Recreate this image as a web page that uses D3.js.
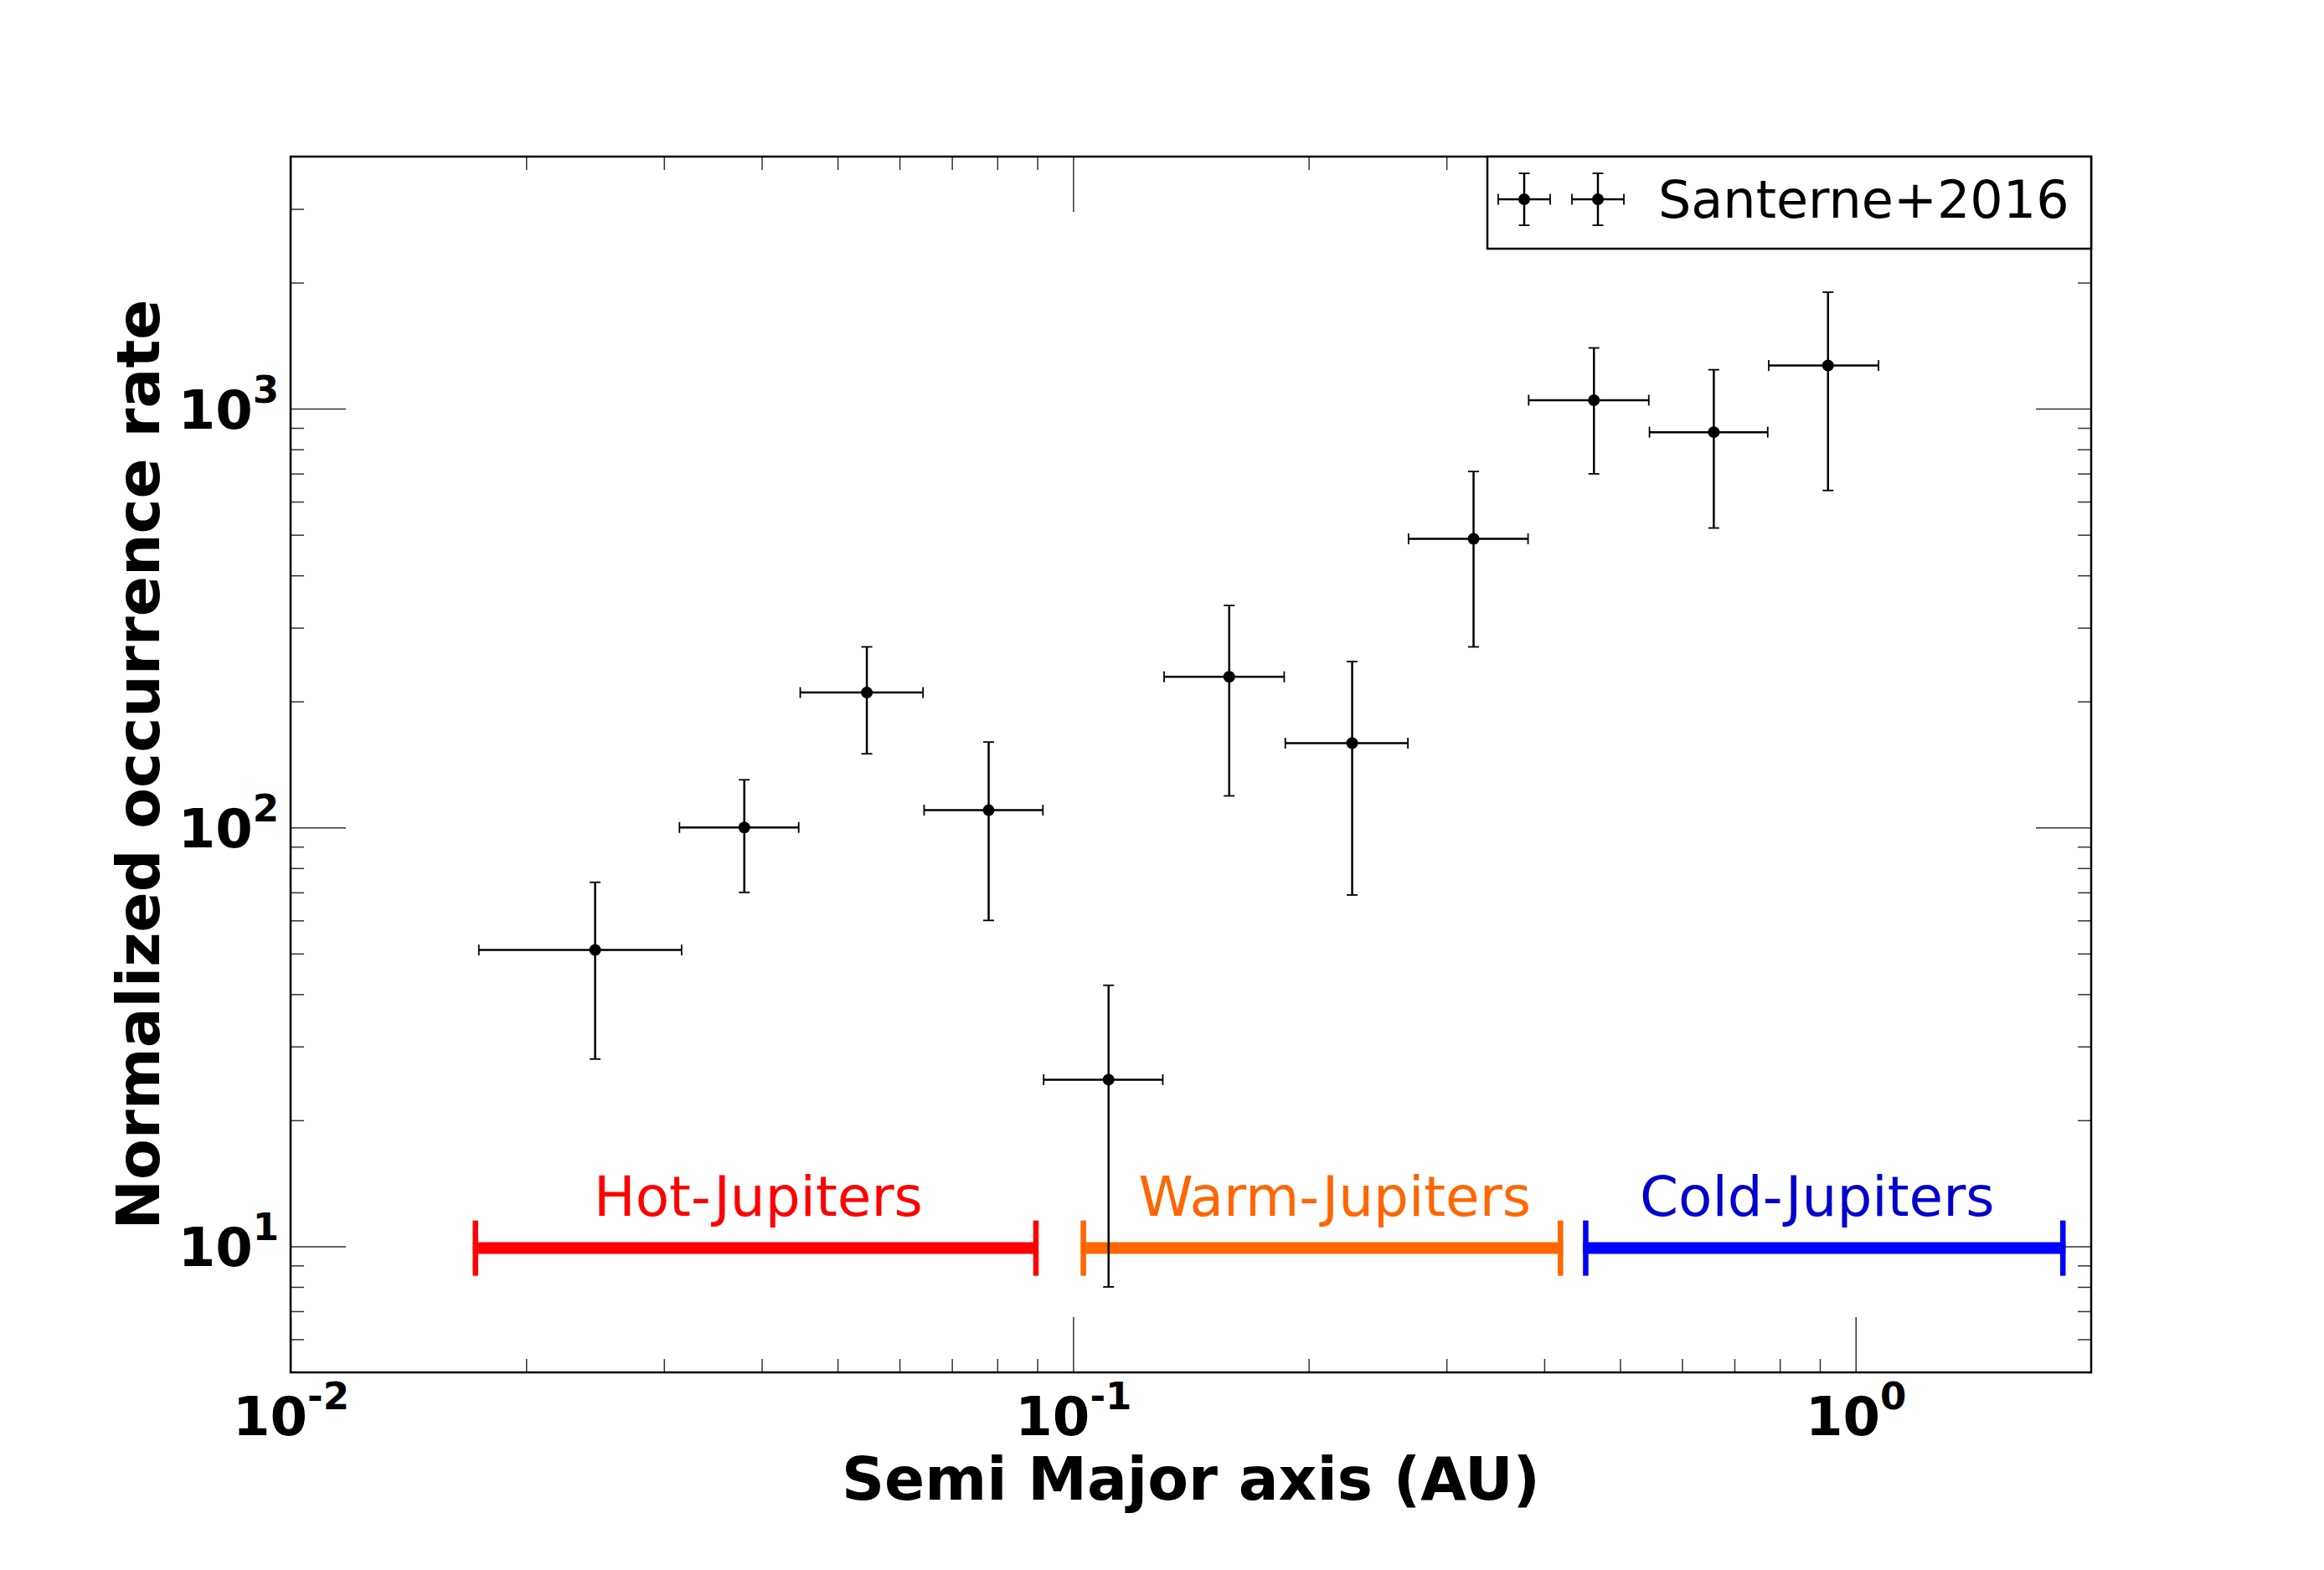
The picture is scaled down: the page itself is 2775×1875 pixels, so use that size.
<!DOCTYPE html>
<meta charset="utf-8">
<title>Occurrence rate vs semi major axis</title>
<script src="https://d3js.org/d3.v7.min.js"></script>
<style>
    body { margin: 0; background: #fff; }
    svg text { font-family: "DejaVu Sans", sans-serif; }
</style>
<body>
<div id="chart"></div>

<script>
    // values
    var semiMajor = [0.0245, 0.0380, 0.0545, 0.0780, 0.1110, 0.1583, 0.2273, 0.3249, 0.4630, 0.6588, 0.9220];
    var binLow    = [0.0174, 0.0314, 0.0448, 0.0645, 0.0917, 0.1307, 0.1867, 0.2683, 0.3821, 0.5452, 0.7744];
    var binHigh   = [0.0316, 0.0446, 0.0643, 0.0915, 0.1302, 0.1861, 0.2678, 0.3814, 0.5441, 0.7721, 1.0698];
    var rate      = [51, 100, 210, 110, 25, 229, 159, 489, 1048, 879, 1268];
    var rateErr   = [23, 30, 60, 50, 17, 110, 90, 219, 349, 360, 630];

    var regionNames   = ["Hot-Jupiters", "Warm-Jupiters", "Cold-Jupiters"];
    var regionFrom    = [0.0171, 0.1023, 0.4486];
    var regionTo      = [0.0903, 0.4227, 1.854];
    var regionLabelAt = [0.0396, 0.216, 0.893];
    var regionLevel   = 9.9;

    var xMajor = [0.01, 0.1, 1];
    var yMajor = [10, 100, 1000];

    // styles kept apart from the data
    var regionColors     = ["#ff0000", "#ff6600", "#0000ff"];
    var regionTextColors = ["#ff0000", "#ff6600", "#0000cd"];

    var W = 2775, H = 1875;
    var pLeft = 347, pRight = 2497, pTop = 187, pBottom = 1639;

    var x = d3.scaleLog().domain([0.01, 2]).range([pLeft, pRight]);
    var y = d3.scaleLog().domain([5, 4000]).range([pBottom, pTop]);

    // minor ticks 2..9 of every decade inside the domain
    function minorTicks(scale) {
        var dom = scale.domain(), out = [];
        for (var e = Math.floor(Math.log10(dom[0])); e <= Math.ceil(Math.log10(dom[1])); e++) {
            for (var k = 2; k <= 9; k++) {
                var v = k * Math.pow(10, e);
                if (v > dom[0] * 1.0001 && v < dom[1] * 0.9999) out.push(v);
            }
        }
        return out;
    }
    var xMinor = minorTicks(x);
    var yMinor = minorTicks(y);

    var svg = d3.select("#chart").append("svg")
        .attr("width", W)
        .attr("height", H);

    svg.append("rect").attr("width", W).attr("height", H).attr("fill", "#fff");

    // ticks on all four sides, pointing in
    function addTicks(gen, tf, vals, size) {
        var g = svg.append("g")
            .attr("transform", tf)
            .call(gen.tickValues(vals).tickSize(-size).tickFormat(""));
        g.select(".domain").remove();
        g.selectAll(".tick line").attr("stroke", "#333").attr("stroke-width", 1.5);
        return g;
    }

    var gBottom = addTicks(d3.axisBottom(x), "translate(0," + pBottom + ")", xMajor, 66);
    addTicks(d3.axisBottom(x), "translate(0," + pBottom + ")", xMinor, 16);
    addTicks(d3.axisTop(x), "translate(0," + pTop + ")", xMajor, 66);
    addTicks(d3.axisTop(x), "translate(0," + pTop + ")", xMinor, 16);
    var gLeft = addTicks(d3.axisLeft(y), "translate(" + pLeft + ",0)", yMajor, 66);
    addTicks(d3.axisLeft(y), "translate(" + pLeft + ",0)", yMinor, 16);
    addTicks(d3.axisRight(y), "translate(" + pRight + ",0)", yMajor, 66);
    addTicks(d3.axisRight(y), "translate(" + pRight + ",0)", yMinor, 16);

    // 10^n tick labels
    function powLabel(sel) {
        sel.each(function(d) {
            var t = d3.select(this);
            t.text(null)
                .attr("dy", null)
                .attr("fill", "#000")
                .attr("font-size", 64)
                .attr("font-weight", "bold");
            t.append("tspan").text("10");
            t.append("tspan")
                .attr("dy", -31)
                .attr("font-size", 45)
                .text(Math.round(Math.log10(d)));
        });
    }
    gBottom.attr("font-family", null).attr("font-size", null);
    gLeft.attr("font-family", null).attr("font-size", null);
    gBottom.selectAll(".tick text").call(powLabel).attr("y", 75);
    gLeft.selectAll(".tick text").call(powLabel).attr("x", -14).attr("y", 23);

    // region bars
    var regions = regionNames.map(function(n, i) {
        return {name: n, from: regionFrom[i], to: regionTo[i], at: regionLabelAt[i],
                color: regionColors[i], text: regionTextColors[i]};
    });
    var gReg = svg.append("g").selectAll("g").data(regions).enter().append("g");
    gReg.append("line")
        .attr("x1", function(d) { return x(d.from); })
        .attr("x2", function(d) { return x(d.to); })
        .attr("y1", y(regionLevel)).attr("y2", y(regionLevel))
        .attr("stroke", function(d) { return d.color; })
        .attr("stroke-width", 14);
    ["from", "to"].forEach(function(end) {
        gReg.append("line")
            .attr("x1", function(d) { return x(d[end]) + (end == "from" ? 3 : -3); })
            .attr("x2", function(d) { return x(d[end]) + (end == "from" ? 3 : -3); })
            .attr("y1", y(regionLevel) - 33)
            .attr("y2", y(regionLevel) + 33)
            .attr("stroke", function(d) { return d.color; })
            .attr("stroke-width", 6.5);
    });
    gReg.append("text")
        .attr("x", function(d) { return x(d.at); })
        .attr("y", y(regionLevel) - 39)
        .attr("text-anchor", "middle")
        .attr("font-size", 66)
        .attr("fill", function(d) { return d.text; })
        .text(function(d) { return d.name; });

    // data points with error bars
    var points = semiMajor.map(function(a, i) {
        return {a: a, lo: binLow[i], hi: binHigh[i], r: rate[i], e: rateErr[i]};
    });
    var cap = 6.5;
    var gPts = svg.append("g").attr("stroke", "#000").selectAll("g")
        .data(points).enter().append("g");
    gPts.append("line")
        .attr("x1", function(d) { return x(d.a); }).attr("x2", function(d) { return x(d.a); })
        .attr("y1", function(d) { return y(d.r - d.e); }).attr("y2", function(d) { return y(d.r + d.e); })
        .attr("stroke-width", 2.5);
    gPts.append("line")
        .attr("x1", function(d) { return x(d.lo); }).attr("x2", function(d) { return x(d.hi); })
        .attr("y1", function(d) { return y(d.r); }).attr("y2", function(d) { return y(d.r); })
        .attr("stroke-width", 2.5);
    [-1, 1].forEach(function(s) {
        gPts.append("line")
            .attr("x1", function(d) { return x(d.a) - cap; }).attr("x2", function(d) { return x(d.a) + cap; })
            .attr("y1", function(d) { return y(d.r + s * d.e); }).attr("y2", function(d) { return y(d.r + s * d.e); })
            .attr("stroke-width", 1.8);
        gPts.append("line")
            .attr("x1", function(d) { return x(s < 0 ? d.lo : d.hi); }).attr("x2", function(d) { return x(s < 0 ? d.lo : d.hi); })
            .attr("y1", function(d) { return y(d.r) - cap; }).attr("y2", function(d) { return y(d.r) + cap; })
            .attr("stroke-width", 1.8);
    });
    gPts.append("circle")
        .attr("cx", function(d) { return x(d.a); })
        .attr("cy", function(d) { return y(d.r); })
        .attr("r", 7)
        .attr("fill", "#000").attr("stroke", "none");

    // frame
    svg.append("rect")
        .attr("x", pLeft).attr("y", pTop)
        .attr("width", pRight - pLeft).attr("height", pBottom - pTop)
        .attr("fill", "none").attr("stroke", "#000").attr("stroke-width", 2.5);

    // legend
    var lg = svg.append("g").attr("transform", "translate(" + (pRight - 721) + "," + pTop + ")");
    lg.append("rect").attr("width", 721).attr("height", 110)
        .attr("fill", "#fff").attr("stroke", "#000").attr("stroke-width", 2.5);
    [44, 132].forEach(function(cx) {
        var m = lg.append("g").attr("stroke", "#000").attr("transform", "translate(" + cx + ",51)");
        m.append("line").attr("x1", -31).attr("x2", 31).attr("stroke-width", 2.5);
        m.append("line").attr("y1", -31).attr("y2", 31).attr("stroke-width", 2.5);
        m.append("line").attr("x1", -31).attr("x2", -31).attr("y1", -cap).attr("y2", cap).attr("stroke-width", 1.8);
        m.append("line").attr("x1", 31).attr("x2", 31).attr("y1", -cap).attr("y2", cap).attr("stroke-width", 1.8);
        m.append("line").attr("y1", -31).attr("y2", -31).attr("x1", -cap).attr("x2", cap).attr("stroke-width", 1.8);
        m.append("line").attr("y1", 31).attr("y2", 31).attr("x1", -cap).attr("x2", cap).attr("stroke-width", 1.8);
        m.append("circle").attr("r", 7).attr("fill", "#000").attr("stroke", "none");
    });
    lg.append("text")
        .attr("x", 204).attr("y", 73)
        .attr("font-size", 62)
        .text("Santerne+2016");

    // axis titles
    svg.append("text")
        .attr("x", (pLeft + pRight) / 2).attr("y", 1791)
        .attr("text-anchor", "middle")
        .attr("font-size", 71).attr("font-weight", "bold")
        .text("Semi Major axis (AU)");
    svg.append("text")
        .attr("transform", "translate(190," + (pTop + pBottom) / 2 + ") rotate(-90)")
        .attr("text-anchor", "middle")
        .attr("font-size", 71).attr("font-weight", "bold")
        .text("Normalized occurrence rate");
</script>
</body>
